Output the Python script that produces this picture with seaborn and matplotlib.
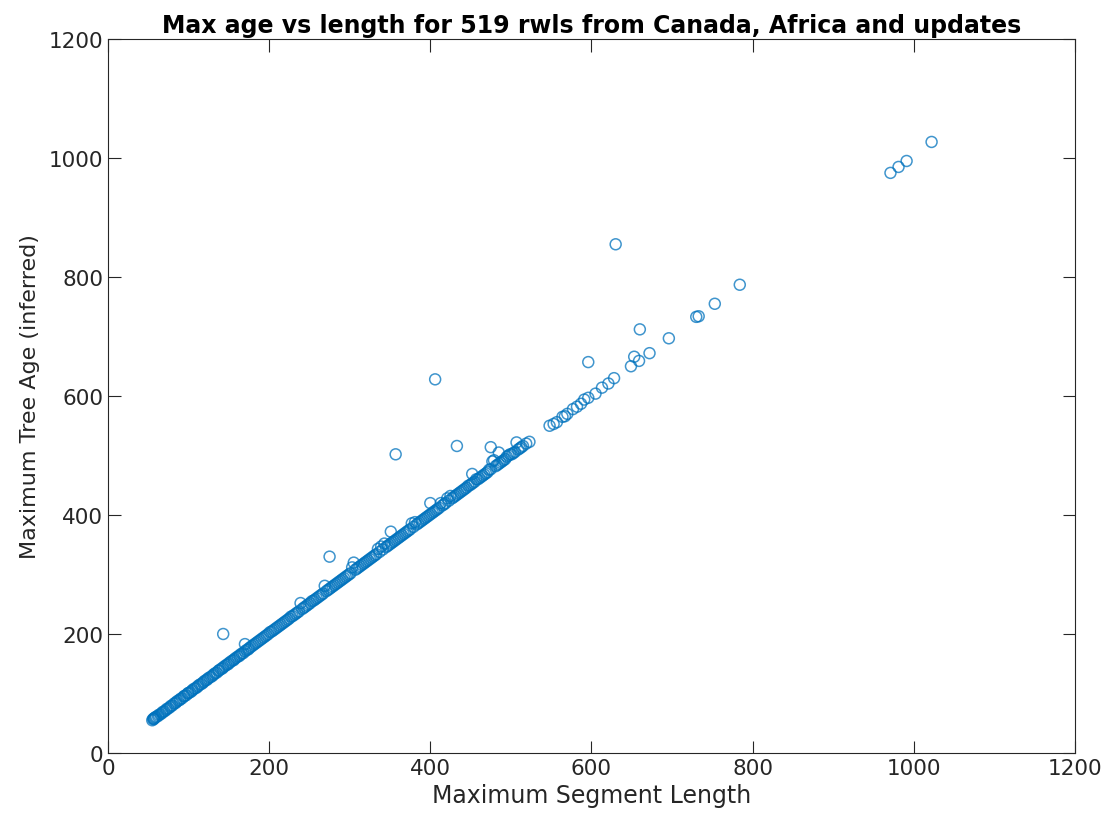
import matplotlib
matplotlib.use('Agg')
import matplotlib.pyplot as plt
import seaborn as sns
import pandas as pd

# points that sit on (or just above) the age = length line
seg_length = [
    55, 56, 57, 57, 58, 59, 60, 62, 63, 65,
    67, 68, 70, 72, 73, 75, 77, 78, 80, 82,
    84, 85, 87, 89, 90, 92, 94, 95, 97, 99,
    100, 102, 104, 105, 107, 109, 111, 112, 114, 116,
    118, 119, 121, 123, 124, 126, 128, 130, 131, 133,
    135, 137, 138, 140, 142, 143, 145, 147, 149, 150,
    152, 154, 156, 157, 159, 161, 163, 164, 166, 168,
    170, 172, 174, 175, 177, 179, 181, 183, 185, 187,
    189, 191, 193, 195, 197, 199, 201, 203, 205, 207,
    209, 211, 213, 215, 217, 219, 221, 223, 225, 227,
    229, 231, 233, 235, 237, 239, 241, 243, 245, 247,
    249, 251, 253, 255, 257, 259, 261, 263, 265, 267,
    269, 271, 273, 275, 277, 279, 281, 283, 285, 287,
    289, 291, 293, 295, 297, 299, 301, 303, 305, 307,
    309, 311, 313, 315, 317, 319, 321, 323, 325, 327,
    329, 331, 333, 335, 337, 339, 341, 343, 345, 347,
    349, 351, 353, 355, 357, 359, 361, 363, 365, 367,
    369, 371, 373, 375, 377, 379, 381, 383, 385, 387,
    389, 391, 393, 395, 397, 399, 401, 403, 405, 407,
    409, 411, 413, 415, 417, 419, 421, 423, 425, 427,
    429, 431, 433, 435, 437, 439, 441, 443, 445, 447,
    449, 451, 453, 455, 457, 459, 461, 463, 465, 467,
    469, 471, 473, 475, 477, 479, 481, 483, 485, 487,
    489, 491, 493, 495, 497, 499, 501, 503, 505, 509,
    511, 513, 515, 519, 523,
    548, 553, 557, 564, 567, 570, 577, 582, 587, 591,
    596, 605, 613, 621, 628,
    649, 659, 672, 696, 730, 733, 753, 784,
    971, 981, 991, 1022,
]
tree_age = [
    55, 57, 57, 58, 59, 60, 61, 62, 64, 65,
    67, 69, 70, 72, 74, 75, 77, 79, 80, 83,
    84, 86, 88, 89, 91, 92, 95, 96, 97, 100,
    101, 102, 104, 106, 108, 109, 111, 113, 115, 116,
    118, 120, 122, 123, 125, 127, 128, 130, 132, 134,
    135, 138, 139, 141, 142, 144, 146, 148, 149, 151,
    153, 155, 156, 158, 160, 162, 163, 165, 167, 168,
    171, 173, 174, 176, 178, 180, 182, 184, 186, 188,
    190, 192, 194, 196, 198, 200, 203, 204, 206, 208,
    210, 212, 214, 216, 218, 220, 222, 224, 226, 229,
    230, 232, 234, 236, 238, 252, 242, 244, 246, 248,
    250, 252, 255, 256, 258, 260, 262, 264, 266, 268,
    281, 272, 274, 276, 278, 280, 282, 284, 286, 288,
    290, 292, 294, 296, 298, 300, 302, 312, 320, 308,
    310, 312, 314, 316, 318, 320, 322, 324, 326, 328,
    330, 332, 334, 343, 338, 347, 342, 352, 346, 348,
    350, 352, 354, 356, 358, 360, 362, 364, 366, 368,
    370, 372, 374, 376, 386, 380, 388, 384, 386, 388,
    390, 392, 394, 396, 398, 400, 402, 404, 406, 408,
    410, 412, 420, 416, 418, 420, 428, 424, 432, 428,
    430, 432, 434, 436, 438, 440, 442, 444, 446, 449,
    450, 452, 454, 456, 460, 460, 462, 464, 466, 468,
    470, 472, 476, 477, 490, 492, 482, 484, 486, 488,
    490, 492, 494, 498, 500, 502, 502, 504, 506, 510,
    512, 514, 516, 520, 523,
    550, 553, 556, 565, 566, 570, 578, 582, 587, 594,
    597, 604, 614, 621, 630,
    650, 659, 672, 697, 733, 734, 755, 787,
    975, 985, 995, 1027,
]

# series that stand well off the line
outlier_length = [143, 170, 275, 351, 357, 400, 406, 433, 452, 475, 485, 507,
                  596, 630, 653, 660]
outlier_age = [200, 183, 330, 372, 502, 420, 628, 516, 469, 514, 505, 522,
               657, 855, 666, 712]

df = pd.DataFrame({'length': seg_length + outlier_length,
                   'age': tree_age + outlier_age})

plt.rcParams['font.family'] = ['DejaVu Sans']
fig = plt.figure(figsize=(11.06, 8.2), dpi=100)
ax = fig.add_axes([0.0976, 0.0805, 0.8744, 0.8707])

sns.scatterplot(data=df, x='length', y='age', ax=ax, marker='o', s=62,
                facecolors='none', edgecolor='#0072BD', linewidth=1.1,
                alpha=0.75, legend=False)

ax.set_xlim(0, 1200)
ax.set_ylim(0, 1200)
ax.set_xticks(range(0, 1201, 200))
ax.set_yticks(range(0, 1201, 200))
ax.tick_params(direction='in', length=9, width=0.8, top=True, right=True,
               labelsize=15.5, colors='#262626')
for s in ax.spines.values():
    s.set_color('#262626')
    s.set_linewidth(0.8)

ax.set_xlabel('Maximum Segment Length', fontsize=17, color='#262626')
ax.set_ylabel('Maximum Tree Age (inferred)', fontsize=16, color='#262626',
              labelpad=6)
ax.set_title('Max age vs length for 519 rwls from Canada, Africa and updates',
             fontsize=17, fontweight='bold', pad=5)

plt.savefig('out.png', dpi=100)
plt.close()
